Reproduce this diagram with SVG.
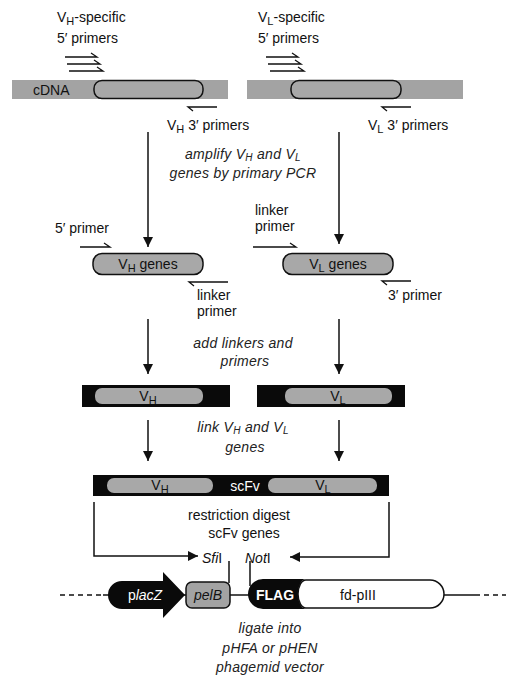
<svg xmlns="http://www.w3.org/2000/svg" width="506" height="677" viewBox="0 0 506 677">
<defs>
<marker id="ah" viewBox="0 0 10 10" refX="10" refY="5" markerWidth="10" markerHeight="10" markerUnits="userSpaceOnUse" orient="auto">
<path d="M0,0 L10,5 L0,10 Z" fill="#111"/>
</marker>
</defs>
<style>
text{font-family:"Liberation Sans",Arial,sans-serif;font-size:14px;fill:#111}
.it{font-style:italic;font-size:14px;fill:#222;letter-spacing:0.3px}
.sub{font-size:11px}
.sub2{font-size:10px}
.w{fill:#fff}
.ln{stroke:#111;stroke-width:1.5;fill:none}
.pr{stroke:#111;stroke-width:1.3;fill:none}
.bar{fill:#a3a3a3}
.pill{fill:#a8a8a8;stroke:#111;stroke-width:1.5}
.pill2{fill:#a8a8a8;stroke:none}
.blk{fill:#0a0a0a}
</style>

<g id="labels-top">
<text x="57" y="22">V<tspan class="sub" dy="3">H</tspan><tspan dy="-3">-specific</tspan></text>
<text x="57" y="43">5′ primers</text>
<text x="258" y="22">V<tspan class="sub" dy="3">L</tspan><tspan dy="-3">-specific</tspan></text>
<text x="258" y="43">5′ primers</text>
</g>

<g id="primers-top">
<path class="pr" d="M65,57 H97 L91,53 M67,64 H100 L94,60 M69,71 H103 L97,67"/>
<path class="pr" d="M266,57 H298 L292,53 M268,64 H301 L295,60 M270,71 H304 L298,67"/>
<path class="pr" d="M217,107 H188 L193,111"/>
<path class="pr" d="M411,107 H382 L387,111"/>
</g>

<g id="cdna-left">
<rect class="bar" x="12" y="80" width="216" height="19"/>
<rect class="pill" x="94" y="80.5" width="109" height="18" rx="8"/>
<text x="33" y="95">cDNA</text>
</g>
<g id="cdna-right">
<rect class="bar" x="247" y="80" width="216" height="19"/>
<rect class="pill" x="291" y="80.5" width="110" height="18" rx="8"/>
</g>

<g id="labels-3prime">
<text x="167" y="130">V<tspan class="sub" dy="3">H</tspan><tspan dy="-3"> 3′ primers</tspan></text>
<text x="368" y="130">V<tspan class="sub" dy="3">L</tspan><tspan dy="-3"> 3′ primers</tspan></text>
</g>

<g id="step-amplify">
<text class="it" x="243" y="159" text-anchor="middle">amplify V<tspan class="sub2" dy="2">H</tspan><tspan dy="-2"> and V</tspan><tspan class="sub2" dy="2">L</tspan></text>
<text class="it" x="243" y="178" text-anchor="middle">genes by primary PCR</text>
</g>

<g id="vh-genes">
<text x="55" y="233">5′ primer</text>
<path class="pr" d="M80,247 H110 L104,243"/>
<rect class="pill" x="93" y="253.5" width="110" height="21" rx="9"/>
<text x="148" y="269" text-anchor="middle">V<tspan class="sub" dy="3">H</tspan><tspan dy="-3"> genes</tspan></text>
<path class="pr" d="M228,282 H189 L194,286"/>
<text x="197" y="300">linker</text>
<text x="197" y="316">primer</text>
</g>

<g id="vl-genes">
<text x="255" y="215">linker</text>
<text x="255" y="231">primer</text>
<path class="pr" d="M253,247 H296 L290,243"/>
<rect class="pill" x="283" y="253.5" width="110" height="21" rx="9"/>
<text x="338" y="269" text-anchor="middle">V<tspan class="sub" dy="3">L</tspan><tspan dy="-3"> genes</tspan></text>
<path class="pr" d="M411,281 H382 L387,285"/>
<text x="388" y="300">3′ primer</text>
</g>

<g id="step-linkers">
<text class="it" x="243" y="348" text-anchor="middle">add linkers and</text>
<text class="it" x="245" y="366" text-anchor="middle">primers</text>
</g>

<g id="vh-linked">
<rect class="blk" x="82" y="385" width="148" height="22"/>
<rect class="pill2" x="95" y="388" width="108" height="16" rx="7"/>
<text x="148" y="401" text-anchor="middle">V<tspan class="sub" dy="3">H</tspan></text>
</g>
<g id="vl-linked">
<rect class="blk" x="257" y="385" width="148" height="22"/>
<rect class="pill2" x="285" y="388" width="107" height="16" rx="7"/>
<text x="338" y="401" text-anchor="middle">V<tspan class="sub" dy="3">L</tspan></text>
</g>

<g id="step-link">
<text class="it" x="243" y="432" text-anchor="middle">link V<tspan class="sub2" dy="2">H</tspan><tspan dy="-2"> and V</tspan><tspan class="sub2" dy="2">L</tspan></text>
<text class="it" x="245" y="452" text-anchor="middle">genes</text>
</g>

<g id="scfv">
<rect class="blk" x="93" y="475" width="296" height="21"/>
<rect class="pill2" x="107" y="478" width="106" height="15" rx="7"/>
<rect class="pill2" x="268" y="478" width="109" height="15" rx="7"/>
<text x="160" y="490" text-anchor="middle">V<tspan class="sub" dy="3">H</tspan></text>
<text class="w" x="245" y="491" text-anchor="middle">scFv</text>
<text x="323" y="490" text-anchor="middle">V<tspan class="sub" dy="3">L</tspan></text>
</g>

<g id="step-digest">
<text x="239" y="520" text-anchor="middle">restriction digest</text>
<text x="244" y="538" text-anchor="middle">scFv genes</text>
</g>

<g id="sites">
<text x="202" y="563"><tspan font-style="italic">Sfi</tspan>I</text>
<text x="245" y="563"><tspan font-style="italic">Not</tspan>I</text>
</g>

<g id="connectors">
<line class="ln" x1="148" y1="132" x2="148" y2="247" marker-end="url(#ah)"/>
<line class="ln" x1="339" y1="132" x2="339" y2="244" marker-end="url(#ah)"/>
<line class="ln" x1="148" y1="319" x2="148" y2="374" marker-end="url(#ah)"/>
<line class="ln" x1="339" y1="319" x2="339" y2="374" marker-end="url(#ah)"/>
<line class="ln" x1="148" y1="420" x2="148" y2="461" marker-end="url(#ah)"/>
<line class="ln" x1="339" y1="420" x2="339" y2="461" marker-end="url(#ah)"/>
<polyline class="ln" points="94,502 94,556 198,556" marker-end="url(#ah)"/>
<polyline class="ln" points="389,502 389,557 290,557" marker-end="url(#ah)"/>
<line class="ln" x1="229" y1="561" x2="229" y2="583"/>
<line class="ln" x1="250" y1="561" x2="250" y2="586"/>
<line class="ln" x1="60" y1="595" x2="103" y2="595" stroke-dasharray="5,4"/>
<line class="ln" x1="103" y1="595" x2="116" y2="595"/>
<line class="ln" x1="184" y1="595" x2="186" y2="595"/>
<line class="ln" x1="230" y1="595" x2="250" y2="595"/>
<line class="ln" x1="443" y1="595" x2="480" y2="595"/>
<line class="ln" x1="484" y1="595" x2="506" y2="595" stroke-dasharray="5,4"/>
</g>

<g id="placZ">
<path class="blk" d="M122,581 H163 V572 L185,595 L163,618 V609 H122 A14,14 0 0 1 122,581 Z"/>
<text class="w" x="145" y="600" text-anchor="middle">p<tspan font-style="italic">lacZ</tspan></text>
</g>
<g id="pelB">
<rect x="186" y="582" width="44" height="26" rx="6" fill="#a3a3a3" stroke="#111" stroke-width="1.5"/>
<text x="208" y="600" text-anchor="middle" font-style="italic">pelB</text>
</g>
<g id="FLAG">
<path class="blk" d="M263,579 H306 A8,15 0 0 0 306,609 H263 A15,15 0 0 1 263,579 Z"/>
<text class="w" x="275" y="600" text-anchor="middle" font-weight="bold" font-size="13">FLAG</text>
</g>
<g id="fd-pIII">
<path d="M306,580 H430 A14,14 0 0 1 430,608 H306 A8,14 0 0 1 306,580 Z" fill="#fff" stroke="#111" stroke-width="1.5"/>
<text x="358" y="600" text-anchor="middle">fd-pIII</text>
</g>

<g id="step-ligate">
<text class="it" x="270" y="633" text-anchor="middle">ligate into</text>
<text class="it" x="270" y="653" text-anchor="middle">pHFA or pHEN</text>
<text class="it" x="270" y="672" text-anchor="middle">phagemid vector</text>
</g>
</svg>
